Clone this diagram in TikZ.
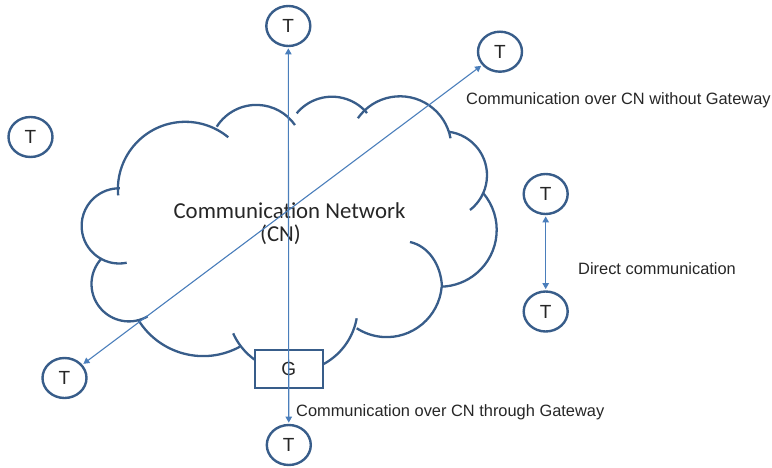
\documentclass[tikz,border=0pt]{standalone}
\usepackage{fontspec}
\setmainfont{Liberation Sans}
\newfontfamily\calibrifont{Carlito}
\usetikzlibrary{shapes.geometric,arrows.meta}
\definecolor{strokeblue}{HTML}{385D8A}
\definecolor{linkblue}{HTML}{4A7EBB}
\definecolor{txt}{HTML}{262626}
\newcommand\cloudbump[4]{\draw[cloudline] (#1) ++(#2:#4) arc[start angle=#2, end angle=#3, radius=#4];}
\begin{document}
\begin{tikzpicture}[x=1pt,y=-1pt,
  cloudline/.style={draw=strokeblue, line width=2.3pt},
  term/.style={ellipse, draw=strokeblue, line width=2.4pt, fill=white, minimum width=44pt, minimum height=40pt, inner sep=0pt, font=\fontsize{19}{19}\selectfont, text=txt},
  gw/.style={rectangle, draw=strokeblue, line width=2.4pt, fill=white, minimum width=68pt, minimum height=38pt, inner sep=0pt, font=\fontsize{19}{19}\selectfont, text=txt},
  conn/.style={draw=linkblue, line width=1.1pt, shorten <=1.2pt, shorten >=1.2pt, arrows={Triangle[length=6pt,width=6.5pt]-Triangle[length=6pt,width=6.5pt]}},
  lbl/.style={font=\fontsize{16.4}{19}\selectfont, text=txt, inner sep=0pt, anchor=base west}]
\useasboundingbox (0,0) rectangle (772,468);
% cloud
\cloudbump{185.3,189.2}{174.7}{309.6}{67.4}
\cloudbump{256.4,151.9}{212.4}{325.1}{47}
\cloudbump{332,142.5}{219.6}{319.9}{45.8}
\cloudbump{400,147.7}{215}{349.4}{51.4}
\cloudbump{443.1,175.3}{276.8}{412.2}{43.9}
\cloudbump{439.9,229.9}{-40.1}{88.2}{56.8}
\cloudbump{386.7,281.9}{5}{122.9}{55.2}
\cloudbump{292.6,306.8}{10.2}{155.9}{65.1}
\cloudbump{203.2,279.8}{61.2}{148.2}{76.3}
\cloudbump{128.9,284}{223.4}{60}{37.4}
\cloudbump{119.2,225.9}{78.5}{271}{37.6}
\draw[cloudline] (410,242) .. controls (428,246) and (441,264) .. (442,287);
\node[font=\calibrifont\fontsize{22.8}{22.5}\selectfont, text=txt, align=center, anchor=base, inner sep=0pt] (cn) at (289.5,241.5) {Communication Network\\\hspace*{-18pt}(CN)};
% gateway and terminals
\node[gw] (g) at (288.7,369.2) {G};
\node[term] (tTop) at (288.3,26) {T};
\node[term] (tBot) at (288.8,445) {T};
\node[term] (tUR) at (500,51.7) {T};
\node[term] (tLL) at (64.5,378) {T};
\node[term] (tL) at (30.5,137) {T};
\node[term] (tR1) at (545.7,194) {T};
\node[term] (tR2) at (545.7,311.5) {T};
% connectors
\draw[conn] (tBot) -- (tTop);
\draw[conn] (tLL) -- (tUR);
\draw[conn] (tR1) -- (tR2);
% labels
\node[lbl] (l1) at (466,105) {Communication over CN without Gateway};
\node[lbl] (l2) at (578,275) {Direct communication};
\node[lbl] (l3) at (296,416) {Communication over CN through Gateway};
\end{tikzpicture}
\end{document}
